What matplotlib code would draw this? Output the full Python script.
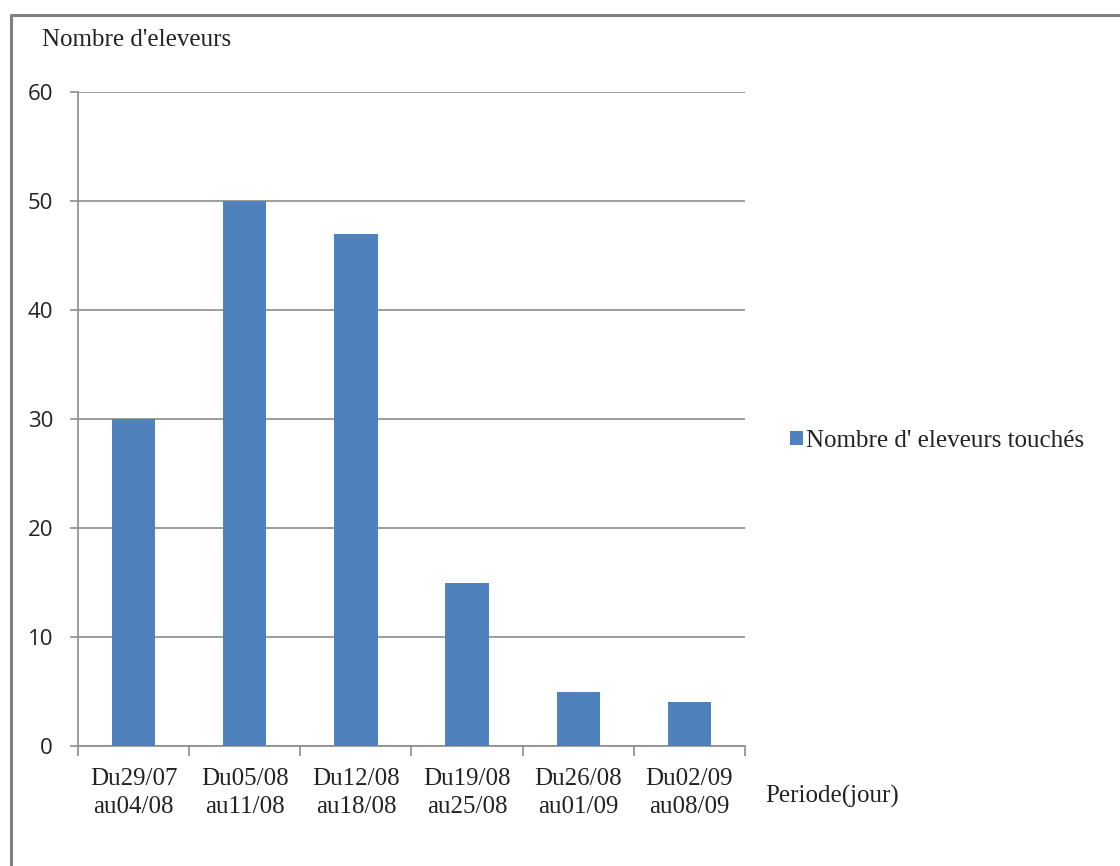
import matplotlib
matplotlib.use("Agg")
import matplotlib.pyplot as plt
from matplotlib.lines import Line2D
from matplotlib.patches import Patch

periods = ["Du29/07\nau04/08", "Du05/08\nau11/08", "Du12/08\nau18/08",
           "Du19/08\nau25/08", "Du26/08\nau01/09", "Du02/09\nau08/09"]
eleveurs_touches = [30, 50, 47, 15, 5, 4]
y_ticks = [0, 10, 20, 30, 40, 50, 60]

W, H = 1120, 866
fig = plt.figure(figsize=(W / 100, H / 100), dpi=100)
fig.patch.set_facecolor("white")

left, right, bottom, top = 78, 745, 746, 92
ax = fig.add_axes([left / W, 1 - bottom / H, (right - left) / W, (bottom - top) / H])

bar_color = "#4F81BD"
grid_color = "#8C8C8C"
serif = "Liberation Serif"

x = list(range(len(periods)))
ax.bar(x, eleveurs_touches, width=0.39, color=bar_color, zorder=3)

ax.set_xlim(-0.5, len(periods) - 0.5)
ax.set_ylim(0, 60)
ax.set_yticks(y_ticks)
ax.yaxis.grid(True, color=grid_color, linewidth=1.2, zorder=0)
ax.tick_params(axis="y", length=6, width=1.2, color=grid_color, pad=12,
               labelsize=16, labelcolor="#222222")
for lbl in ax.get_yticklabels():
    lbl.set_family("Open Sans")

# category labels centred under bars, tick marks at category boundaries
ax.set_xticks(x)
ax.set_xticklabels(periods, family=serif, fontsize=18, color="#222222",
                   linespacing=1.35)
ax.tick_params(axis="x", length=0, pad=16)
ax.set_xticks([i - 0.5 for i in range(len(periods) + 1)], minor=True)
ax.tick_params(axis="x", which="minor", length=7, width=1.2, color=grid_color)

for side in ["top", "right"]:
    ax.spines[side].set_visible(False)
ax.spines["left"].set_color(grid_color)
ax.spines["left"].set_linewidth(1.2)
ax.spines["bottom"].set_color(grid_color)
ax.spines["bottom"].set_linewidth(1.2)

fig.text(42 / W, 1 - 40 / H, "Nombre d'eleveurs", family=serif, fontsize=18,
         color="#222222", va="center", ha="left")
fig.text(765 / W, 1 - 796 / H, "Periode(jour)", family=serif, fontsize=18,
         color="#222222", va="center", ha="left")

leg = fig.legend(handles=[Patch(facecolor=bar_color, label="Nombre d' eleveurs touchés")],
                 loc="center left", bbox_to_anchor=(790 / W, 1 - 441 / H),
                 frameon=False, prop={"family": serif, "size": 18},
                 handlelength=0.5, handleheight=0.5, handletextpad=0.15,
                 borderpad=0, borderaxespad=0)
for t in leg.get_texts():
    t.set_color("#222222")

# chart-area frame (left and top edges)
fig.add_artist(Line2D([11 / W, 11 / W, 1.0], [0.0, 1 - 15 / H, 1 - 15 / H],
                      transform=fig.transFigure, color="#7F7F7F", linewidth=2.2))

fig.savefig("out.png", dpi=100, facecolor="white")
